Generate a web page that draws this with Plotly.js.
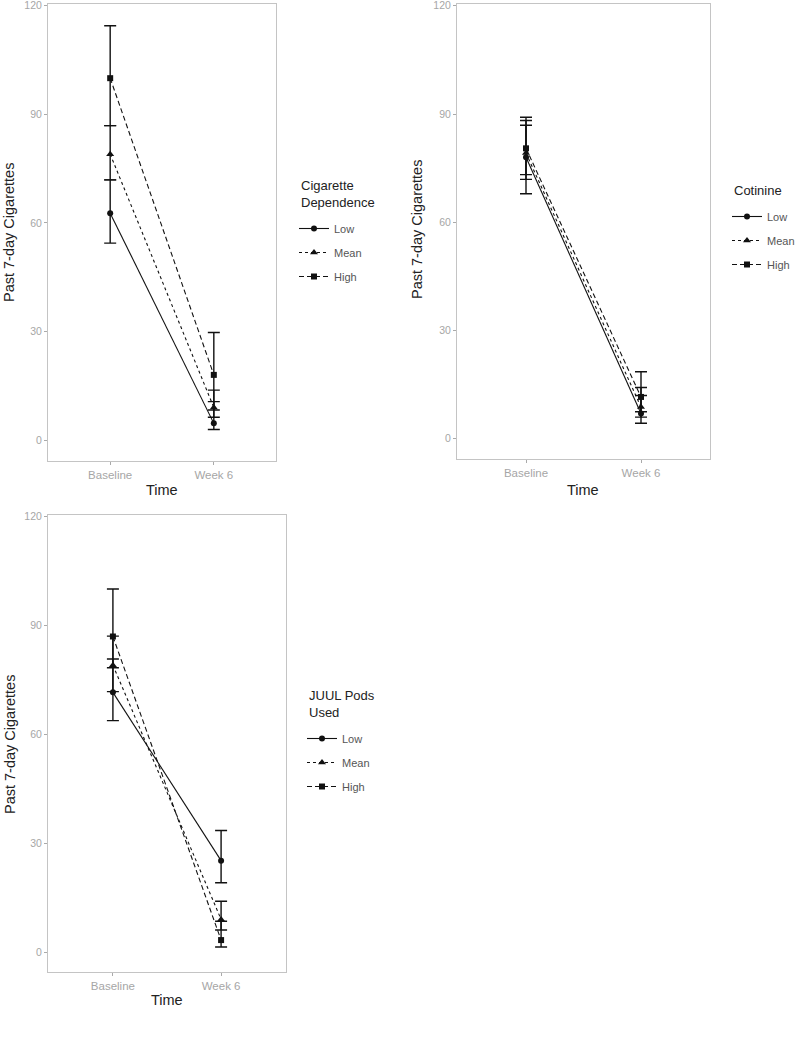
<!DOCTYPE html>
<html>
<head>
<meta charset="utf-8">
<script src="https://cdn.plot.ly/plotly-3.0.1.min.js"></script>
<style>html,body{margin:0;padding:0;background:#fff;}#chart{width:800px;height:1037px;}</style>
</head>
<body>
<div id="chart"></div>
<script>
// ---- data ----
const timepoints = ['Baseline', 'Week 6'];
const levels = ['Low', 'Mean', 'High'];
const yTicks = [0, 30, 60, 90, 120];

// Panel 1: Cigarette Dependence
const depLow = [62.7, 4.6];
const depLowLo = [54.4, 2.9];
const depLowHi = [71.9, 10.6];
const depMean = [79, 9];
const depMeanLo = [71.9, 6.3];
const depMeanHi = [86.9, 13.8];
const depHigh = [100, 18];
const depHighLo = [86.9, 8.3];
const depHighHi = [114.5, 29.7];

// Panel 2: Cotinine
const cotLow = [78, 7];
const cotLowLo = [67.9, 4.3];
const cotLowHi = [88.2, 12];
const cotMean = [79.2, 8.8];
const cotMeanLo = [71.9, 6];
const cotMeanHi = [86.9, 14.2];
const cotHigh = [80.5, 11.6];
const cotHighLo = [73.2, 7.5];
const cotHighHi = [89.1, 18.6];

// Panel 3: JUUL Pods Used
const juulLow = [71.6, 25.2];
const juulLowLo = [63.8, 19.1];
const juulLowHi = [80.8, 33.5];
const juulMean = [79.1, 9];
const juulMeanLo = [71.8, 6.1];
const juulMeanHi = [87.1, 14];
const juulHigh = [87, 3.3];
const juulHighLo = [78.4, 1.4];
const juulHighHi = [100.1, 8.5];

// ---- styles ----
const dashes = {Low: 'solid', Mean: 'dot', High: '5px,3px'};
const symbols = {Low: 'circle', Mean: 'triangle-up', High: 'square'};
const msize = {Low: 6, Mean: 7, High: 6};

function makeTraces(panel, legendId, xa, ya, series) {
  const out = [];
  series.forEach(function (s) {
    out.push({
      type: 'scatter', mode: 'markers', x: timepoints, y: s.y,
      xaxis: xa, yaxis: ya, showlegend: false, hoverinfo: 'skip',
      marker: {size: 1, color: 'rgba(0,0,0,0)'},
      error_y: {
        type: 'data', symmetric: false,
        array: s.y.map((v, i) => s.hi[i] - v),
        arrayminus: s.y.map((v, i) => v - s.lo[i]),
        color: '#111', thickness: 1.4, width: 6
      }
    });
  });
  series.forEach(function (s) {
    out.push({
      type: 'scatter', mode: 'lines+markers', x: timepoints, y: s.y,
      xaxis: xa, yaxis: ya, name: s.name, legend: legendId,
      legendgroup: panel + s.name,
      line: {color: '#111', width: 1.1, dash: dashes[s.name]},
      marker: {color: '#111', symbol: symbols[s.name], size: msize[s.name]}
    });
  });
  return out;
}

const traces = [].concat(
  makeTraces('p1', 'legend', 'x', 'y', [
    {name: 'Low', y: depLow, lo: depLowLo, hi: depLowHi},
    {name: 'Mean', y: depMean, lo: depMeanLo, hi: depMeanHi},
    {name: 'High', y: depHigh, lo: depHighLo, hi: depHighHi}
  ]),
  makeTraces('p2', 'legend2', 'x2', 'y2', [
    {name: 'Low', y: cotLow, lo: cotLowLo, hi: cotLowHi},
    {name: 'Mean', y: cotMean, lo: cotMeanLo, hi: cotMeanHi},
    {name: 'High', y: cotHigh, lo: cotHighLo, hi: cotHighHi}
  ]),
  makeTraces('p3', 'legend3', 'x3', 'y3', [
    {name: 'Low', y: juulLow, lo: juulLowLo, hi: juulLowHi},
    {name: 'Mean', y: juulMean, lo: juulMeanLo, hi: juulMeanHi},
    {name: 'High', y: juulHigh, lo: juulHighLo, hi: juulHighHi}
  ])
);

const W = 800, H = 1037;
const px = v => v / W;
const py = v => 1 - v / H;

function xAxis(l, r) {
  return {
    domain: [px(l), px(r)], type: 'category', range: [-0.6, 1.6],
    showline: true, mirror: true, linecolor: '#c4c4c4', linewidth: 1,
    ticks: 'outside', ticklen: 3, tickcolor: '#aaa', tickwidth: 1,
    tickfont: {size: 11.5, color: '#a6a6a6'}, showgrid: false, zeroline: false,
    fixedrange: true
  };
}
function yAxis(t, b, range) {
  return {
    domain: [py(b), py(t)], range: range, tickvals: yTicks,
    showline: true, mirror: true, linecolor: '#c4c4c4', linewidth: 1,
    ticks: 'outside', ticklen: 3, tickcolor: '#aaa', tickwidth: 1,
    ticklabeloverflow: 'allow',
    tickfont: {size: 10.5, color: '#a6a6a6'}, showgrid: false, zeroline: false,
    fixedrange: true
  };
}
function legend(x, y) {
  return {
    x: px(x), y: py(y), xanchor: 'left', yanchor: 'top',
    bgcolor: 'rgba(0,0,0,0)', borderwidth: 0,
    traceorder: 'grouped', tracegroupgap: 5,
    font: {size: 11, color: '#555'}, itemwidth: 30
  };
}

const titleFont = {family: 'Liberation Sans, Arial, sans-serif', size: 14.5, color: '#222'};
const legFont = {family: 'Liberation Sans, Arial, sans-serif', size: 13, color: '#222'};
const annotations = [
  {text: 'Past 7-day Cigarettes', x: px(9), y: py(233), textangle: -90},
  {text: 'Past 7-day Cigarettes', x: px(417), y: py(230), textangle: -90},
  {text: 'Past 7-day Cigarettes', x: px(10), y: py(745), textangle: -90},
  {text: 'Time', x: px(162), y: py(490)},
  {text: 'Time', x: px(583), y: py(490)},
  {text: 'Time', x: px(167), y: py(1000)},
  {text: 'Cigarette<br>Dependence', x: px(299), y: py(176), xanchor: 'left', yanchor: 'top', align: 'left', font: legFont},
  {text: 'Cotinine', x: px(732), y: py(181), xanchor: 'left', yanchor: 'top', align: 'left', font: legFont},
  {text: 'JUUL Pods<br>Used', x: px(307), y: py(686), xanchor: 'left', yanchor: 'top', align: 'left', font: legFont}
].map(a => Object.assign({xref: 'paper', yref: 'paper', showarrow: false,
  xanchor: 'center', yanchor: 'middle', font: titleFont}, a));

const layout = {
  width: W, height: H,
  margin: {l: 0, r: 0, t: 0, b: 0},
  paper_bgcolor: '#fff', plot_bgcolor: '#fff',
  font: {family: 'Liberation Sans, Arial, sans-serif'},
  showlegend: true,
  xaxis: xAxis(48, 276), yaxis: yAxis(4, 461, [-5.8, 120.5]),
  xaxis2: xAxis(457, 710), yaxis2: yAxis(4, 459, [-5.6, 120.5]),
  xaxis3: xAxis(48, 286), yaxis3: yAxis(515, 972, [-5.5, 120.5]),
  legend: legend(294, 214),
  legend2: legend(727, 202),
  legend3: legend(302, 724),
  annotations: annotations
};
layout.yaxis3.anchor = 'x3';
layout.xaxis3.anchor = 'y3';
layout.yaxis2.anchor = 'x2';
layout.xaxis2.anchor = 'y2';

Plotly.newPlot('chart', traces, layout, {displayModeBar: false, staticPlot: true});
</script>
</body>
</html>
